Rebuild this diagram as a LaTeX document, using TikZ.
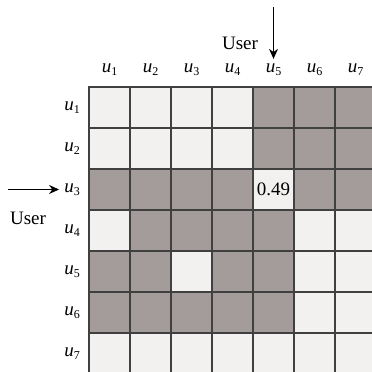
\documentclass[tikz,border=0pt]{standalone}
\usepackage{fontspec}
\setmainfont{Liberation Serif}
\usetikzlibrary{arrows.meta}

\definecolor{darkcell}{HTML}{A39C9A}
\definecolor{lightcell}{HTML}{F3F1F0}
\newcommand{\usr}[1]{\textit{u}\raisebox{-0.35ex}{\fontsize{12}{12}\selectfont #1}}

\tikzset{
  cell/.style={draw=black!75, line width=1.2pt, minimum size=41pt, inner sep=0pt, outer sep=0pt},
  lbl/.style={font=\fontsize{19}{21}\selectfont, inner sep=1pt},
  pointer/.style={-{Stealth[length=10pt,width=9pt]}, line width=1.1pt, shorten >=4pt}
}

\begin{document}
\begin{tikzpicture}[x=1pt, y=-1pt]
	\useasboundingbox (0,0) rectangle (372,372);
	\clip (0,0) rectangle (372,372);
	% matrix cells, 1 = shaded
	\foreach \r/\row in {1/{0,0,0,0,1,1,1}, 2/{0,0,0,0,1,1,1}, 3/{1,1,1,1,0,1,1},
	                     4/{0,1,1,1,1,0,0}, 5/{1,1,0,1,1,0,0}, 6/{1,1,1,1,1,0,0},
	                     7/{0,0,0,0,0,0,0}}{
		\foreach \v [count=\c] in \row {
			\ifnum\v=1 \def\shade{darkcell}\else\def\shade{lightcell}\fi
			\node[cell, fill=\shade] (c-\r-\c) at ({89+41*(\c-0.5)},{87+41*(\r-0.5)}) {};
		}
	}
	% similarity value
	\node[lbl] (val) at (c-3-5) {0.49};
	% row and column labels
	\foreach \i in {1,...,7}{
		\node[lbl] (col-\i) at ({89+41*(\i-0.5)},70) {\usr{\i}};
		\node[lbl] (row-\i) at (72,{87+41*(\i-0.5)}) {\usr{\i}};
	}
	% user pointers
	\node[lbl] (user-top) at (240,43) {User};
	\node[lbl] (user-left) at (28,218) {User};
	\coordinate (top-start) at (273.5,7);
	\coordinate (left-start) at (8,189.5);
	\draw[pointer] (top-start) -- (top-start |- col-5.north);
	\draw[pointer] (left-start) -- (left-start -| row-3.west);
\end{tikzpicture}
\end{document}
